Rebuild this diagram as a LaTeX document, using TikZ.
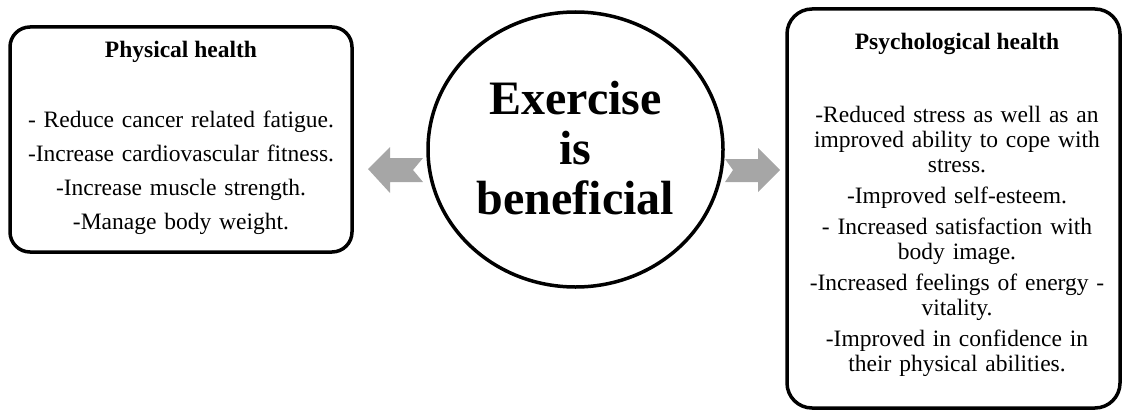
\documentclass[tikz,border=0pt]{standalone}
\usepackage{fontspec}
\setmainfont{Liberation Serif}
\usetikzlibrary{shapes.geometric}
\definecolor{arrowgray}{RGB}{166,166,166}
\begin{document}
\begin{tikzpicture}[x=1pt,y=-1pt,
  box/.style={draw=black, line width=3.5pt, inner sep=0pt},
  titletext/.style={anchor=base, inner sep=0pt, font=\bfseries\fontsize{23.5}{25}\selectfont},
  lefttext/.style={anchor=base, inner sep=0pt, align=center, text width=330pt, font=\fontsize{23.5}{34}\selectfont},
  righttext/.style={anchor=base, inner sep=0pt, align=center, text width=330pt, font=\fontsize{23.5}{25}\selectfont},
  centertext/.style={anchor=base, inner sep=0pt, align=center, text width=280pt, font=\bfseries\fontsize{48}{50}\selectfont},
  blockarrow/.style={fill=arrowgray, draw=none}]
\useasboundingbox (0,0) rectangle (1123,412);
% boxes
\node[box, rounded corners=20pt, minimum width=342pt, minimum height=225pt] (phys) at (181,139.5) {};
\node[box, rounded corners=25pt, minimum width=333pt, minimum height=399pt] (psy) at (953.5,208.5) {};
\node[box, ellipse, minimum width=295pt, minimum height=275pt] (ex) at (575.5,149.5) {};
% texts
\node[titletext] (phystitle) at (181,57) {Physical health};
\node[lefttext] (physbody) at (181,127) {- Reduce cancer related fatigue.\\-Increase cardiovascular fitness.\\-Increase muscle strength.\\-Manage body weight.};
\node[titletext] (psytitle) at (957,50) {Psychological health};
\node[righttext] (psybody) at (957,122) {-Reduced stress as well as an\\improved ability to cope with\\stress.\\[6pt]-Improved self-esteem.\\[6pt]- Increased satisfaction with\\body image.\\[6.5pt]-Increased feelings of energy -\\vitality.\\[6pt]-Improved in confidence in\\their physical abilities.};
\node[centertext] (extext) at (575.5,114) {Exercise\\is\\beneficial};
% block arrows
\fill[blockarrow] (368,169) -- (390,147) -- (390,158) -- (423,158) -- (413,170) -- (423,182) -- (390,182) -- (390,193) -- cycle;
\fill[blockarrow] (780,170) -- (758,148) -- (758,159) -- (725,159) -- (733,170) -- (725,182) -- (758,182) -- (758,192) -- cycle;
\end{tikzpicture}
\end{document}
